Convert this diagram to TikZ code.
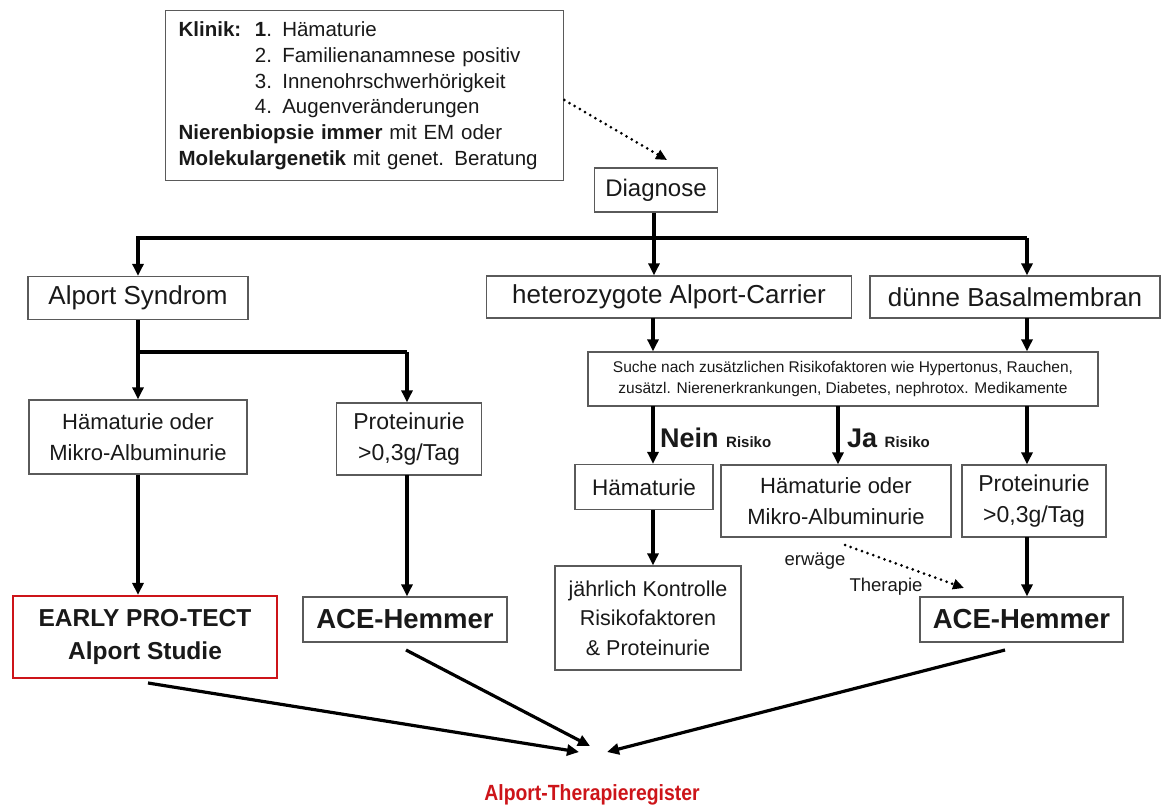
\documentclass[tikz,border=0pt]{standalone}
\usepackage{fontspec}
\setmainfont{Liberation Sans}
\newfontfamily\narrow[FakeStretch=0.88]{Liberation Sans}
\usetikzlibrary{arrows.meta}
\definecolor{boxline}{RGB}{90,90,90}
\definecolor{txt}{RGB}{25,25,25}
\definecolor{regred}{RGB}{205,20,25}
\newcommand{\fs}[2]{\fontsize{#1}{#2}\selectfont}
\begin{document}
\begin{tikzpicture}[x=1pt,y=-1pt,
  box/.style={draw=boxline,line width=1.3pt,fill=white,inner sep=0pt,align=center,text=txt},
  arr/.style={line width=3.2pt,-{Triangle[length=12pt,width=11pt]}},
  ln/.style={line width=3.2pt},
  dotarr/.style={line width=3pt,line cap=round,dash pattern=on 0pt off 6pt,-{Triangle[length=11pt,width=10pt]}},
  lbl/.style={inner sep=0pt,text=txt}]
\useasboundingbox (0,0) rectangle (1161,810);
% top box
\node[box,minimum width=398pt,minimum height=170pt,align=left,anchor=north west,inner xsep=13pt,text width=372pt,font=\fs{20.5}{25.8}] (klinik) at (165,10)
 {\textbf{Klinik:}\ \ \textbf{1}. Hämaturie\\
  \phantom{\textbf{Klinik:}\ \ }2. Familienanamnese positiv\\
  \phantom{\textbf{Klinik:}\ \ }3. Innenohrschwerhörigkeit\\
  \phantom{\textbf{Klinik:}\ \ }4. Augenveränderungen\\
  \textbf{Nierenbiopsie immer} mit EM oder\\
  \textbf{Molekulargenetik} mit genet. Beratung};
\node[box,minimum width=123pt,minimum height=44pt,font=\fs{24}{28}] (diag) at (656,190) {Diagnose};
\node[box,minimum width=220pt,minimum height=43pt,font=\fs{26}{30}] (alport) at (138,298) {Alport Syndrom};
\node[box,minimum width=365pt,minimum height=42pt,font=\fs{26}{30}] (hetero) at (669,297) {heterozygote Alport-Carrier};
\node[box,minimum width=290pt,minimum height=42pt,font=\fs{26}{30}] (duenne) at (1015,297) {dünne Basalmembran};
\node[box,minimum width=218pt,minimum height=74pt,font=\fs{22}{31}] (haem1) at (138,437) {Hämaturie oder\\Mikro-Albuminurie};
\node[box,minimum width=145pt,minimum height=72pt,font=\fs{23}{31}] (prot1) at (409,439) {Proteinurie\\>0,3g/Tag};
\node[box,draw=regred,line width=2.2pt,minimum width=264pt,minimum height=82pt,font=\bfseries\fs{24.5}{33}] (early) at (145,637) {EARLY PRO-TECT\\Alport Studie};
\node[box,minimum width=204pt,minimum height=45pt,font=\bfseries\fs{27.5}{32}] (ace1) at (405,619.5) {ACE-Hemmer};
\node[box,minimum width=510pt,minimum height=54pt,font=\fs{15.5}{21}] (suche) at (843,379) {Suche nach zusätzlichen Risikofaktoren wie Hypertonus, Rauchen,\\zusätzl. Nierenerkrankungen, Diabetes, nephrotox. Medikamente};
\node[box,minimum width=138pt,minimum height=45pt,font=\fs{22.5}{26}] (haem2) at (644,487) {Hämaturie};
\node[box,minimum width=230pt,minimum height=72pt,font=\fs{22}{31}] (haem3) at (836,501) {Hämaturie oder\\Mikro-Albuminurie};
\node[box,minimum width=144pt,minimum height=72pt,font=\fs{23}{31}] (prot2) at (1034,501) {Proteinurie\\>0,3g/Tag};
\node[box,minimum width=186pt,minimum height=104pt,font=\fs{21.5}{29.5}] (jaehr) at (648,618) {jährlich Kontrolle\\Risikofaktoren\\\& Proteinurie};
\node[box,minimum width=203pt,minimum height=45pt,font=\bfseries\fs{27.5}{32}] (ace2) at (1021.5,619.5) {ACE-Hemmer};
\node[lbl,text=regred,font=\narrow\bfseries\fs{22}{26}] (reg) at (592,795) {Alport-Therapieregister};
% labels
\node[lbl,anchor=base west] (nein) at (660,447) {\bfseries\fs{27}{30}Nein\ \fs{15}{18}Risiko};
\node[lbl,anchor=base west] (ja) at (847,447) {\bfseries\fs{27}{30}Ja\ \fs{15}{18}Risiko};
\node[lbl,font=\fs{18.5}{22}] (erw) at (815,561) {erwäge};
\node[lbl,font=\fs{18.5}{22}] (ther) at (886,587) {Therapie};
% connectors
\coordinate (bus1) at (654,238);
\coordinate (bus2) at (138,352);
\draw[dotarr] (klinik.east |- 0,100) -- (667,160);
\draw[ln] (diag.south -| bus1) -- (bus1);
\draw[ln] (138,238) -- (1027,238);
\draw[arr] (bus1) -| (alport.north);
\draw[arr] (bus1) -- (bus1 |- hetero.north);
\draw[arr] (1027,238) -- (1027,238 |- duenne.north);
\draw[ln] (alport.south) -- (bus2);
\draw[ln] (bus2) -- (407,352);
\draw[arr] (bus2) -- (haem1.north);
\draw[arr] (407,352) -- (407,352 |- prot1.north);
\draw[arr] (haem1.south) -- (haem1.south |- early.north);
\draw[arr] (407,475) -- (407,475 |- ace1.north);
\draw[arr] (653,318) -- (653,318 |- suche.north);
\draw[arr] (1027,318) -- (1027,318 |- suche.north);
\draw[arr] (653,406) -- (653,406 |- haem2.north);
\draw[arr] (838,406) -- (838,406 |- haem3.north);
\draw[arr] (1027,406) -- (1027,406 |- prot2.north);
\draw[arr] (653,510) -- (653,510 |- jaehr.north);
\draw[dotarr] (845,545) -- (964,588);
\draw[arr] (1027,537) -- (1027,537 |- ace2.north);
\coordinate (t1) at (579,752);
\coordinate (t2) at (590,746);
\coordinate (t3) at (607,752);
\draw[arr] (148,683) -- (t1);
\draw[arr] (406,650) -- (t2);
\draw[arr] (1005,650) -- (t3);
\end{tikzpicture}
\end{document}
